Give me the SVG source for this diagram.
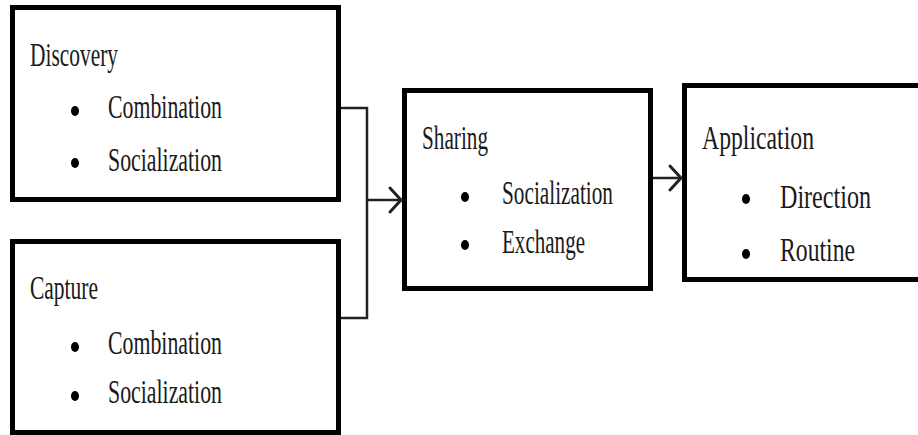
<svg xmlns="http://www.w3.org/2000/svg" width="918" height="435" viewBox="0 0 918 435">
<style>
.box{fill:#fff;stroke:#000;stroke-width:5}
.t{font-family:"Liberation Serif","Times New Roman",serif;font-size:34px;fill:#1a1a1a}
.b{fill:#000}
.c{fill:none;stroke:#222;stroke-width:2.5}
.a{fill:none;stroke:#222;stroke-width:3;stroke-linecap:round}
</style>
<rect width="918" height="435" fill="#fff"/>
<g id="discovery">
<rect class="box" x="12.5" y="7.5" width="326" height="192"/>
<text class="t" x="30" y="66" textLength="88" lengthAdjust="spacingAndGlyphs">Discovery</text>
<ellipse class="b" cx="75" cy="111" rx="4" ry="5"/>
<text class="t" x="108" y="118" textLength="114" lengthAdjust="spacingAndGlyphs">Combination</text>
<ellipse class="b" cx="75" cy="163" rx="4" ry="5"/>
<text class="t" x="108" y="171" textLength="114" lengthAdjust="spacingAndGlyphs">Socialization</text>
</g>
<g id="capture">
<rect class="box" x="12.5" y="241.5" width="326" height="191"/>
<text class="t" x="30" y="299" textLength="68" lengthAdjust="spacingAndGlyphs">Capture</text>
<ellipse class="b" cx="75" cy="347" rx="4" ry="5"/>
<text class="t" x="108" y="354" textLength="114" lengthAdjust="spacingAndGlyphs">Combination</text>
<ellipse class="b" cx="75" cy="396" rx="4" ry="5"/>
<text class="t" x="108" y="403" textLength="114" lengthAdjust="spacingAndGlyphs">Socialization</text>
</g>
<g id="sharing">
<rect class="box" x="404.5" y="90.5" width="246" height="198"/>
<text class="t" x="422" y="149" textLength="66" lengthAdjust="spacingAndGlyphs">Sharing</text>
<ellipse class="b" cx="465" cy="197" rx="4" ry="5"/>
<text class="t" x="502" y="204" textLength="111" lengthAdjust="spacingAndGlyphs">Socialization</text>
<ellipse class="b" cx="465" cy="245" rx="4" ry="5"/>
<text class="t" x="502" y="253" textLength="83" lengthAdjust="spacingAndGlyphs">Exchange</text>
</g>
<g id="application">
<path class="box" d="M925 85.5 H684.5 V279.5 H925" fill="#fff"/>
<text class="t" x="702" y="149" textLength="112" lengthAdjust="spacingAndGlyphs">Application</text>
<ellipse class="b" cx="746" cy="199" rx="4" ry="5"/>
<text class="t" x="780" y="208" textLength="91" lengthAdjust="spacingAndGlyphs">Direction</text>
<ellipse class="b" cx="746" cy="254" rx="4" ry="5"/>
<text class="t" x="780" y="261" textLength="75" lengthAdjust="spacingAndGlyphs">Routine</text>
</g>
<g id="connectors">
<path class="c" d="M341 108 H367 V318 H341"/>
<path class="c" d="M367 200 H401"/>
<path class="a" d="M390 188 L401 200 L390 212"/>
<path class="c" d="M653 178 H681"/>
<path class="a" d="M670 166 L681 178 L670 190"/>
</g>
</svg>
